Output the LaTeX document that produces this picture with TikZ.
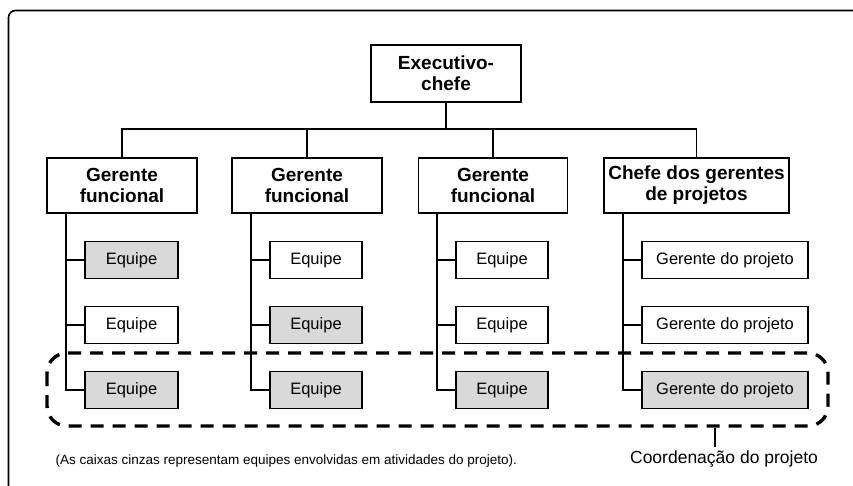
\documentclass[tikz,border=0pt]{standalone}
\usepackage{fontspec}
\setmainfont{Liberation Sans}
\definecolor{boxgray}{RGB}{217,217,217}
\begin{document}
\begin{tikzpicture}[x=1pt,y=-1pt,
  line width=1.1pt,
  headbox/.style={draw, line width=1.1pt, align=center, inner sep=0pt,
    font=\fontsize{19}{21}\selectfont\bfseries},
  teambox/.style={draw, line width=1.1pt, inner sep=0pt, minimum height=37pt,
    font=\fontsize{16.5}{18}\selectfont},
  grayteam/.style={teambox, fill=boxgray},
  link/.style={draw, line width=1.1pt},
  coord/.style={draw, line width=3.4pt, dash pattern=on 13pt off 9pt, rounded corners=20pt}
]
\useasboundingbox (0,0) rectangle (853,486);
% outer frame (top and left edges)
\draw[line width=1.6pt, rounded corners=7pt] (8.5,490) -- (8.5,10.5) -- (860,10.5);

% top
\node[headbox, minimum width=150pt, minimum height=57pt] (exec) at (446,73.5) {Executivo-\\chefe};
% level 2
\node[headbox, minimum width=150pt, minimum height=55pt] (g1) at (122,185.5) {Gerente\\funcional};
\node[headbox, minimum width=150pt, minimum height=55pt] (g2) at (307,185.5) {Gerente\\funcional};
\node[headbox, minimum width=149pt, minimum height=55pt] (g3) at (493,185.5) {Gerente\\funcional};
\node[headbox, minimum width=185pt, minimum height=55pt] (g4) at (696.5,185.5) {Chefe dos gerentes\\de projetos};

% bus
\coordinate (bus) at (446,129);
\draw[link] (exec.south) -- (bus);
\draw[link] (g1.north) |- (bus) -| (g4.north);
\draw[link] (g2.north) -- (g2.north |- bus);
\draw[link] (g3.north) -- (g3.north |- bus);

% teams column 1
\node[grayteam, minimum width=93pt] (t11) at (131.5,260) {Equipe};
\node[teambox, minimum width=93pt] (t12) at (131.5,325) {Equipe};
\node[grayteam, minimum width=93pt] (t13) at (131.5,390) {Equipe};
% column 2
\node[teambox, minimum width=92pt] (t21) at (316,260) {Equipe};
\node[grayteam, minimum width=92pt] (t22) at (316,325) {Equipe};
\node[grayteam, minimum width=92pt] (t23) at (316,390) {Equipe};
% column 3
\node[teambox, minimum width=92pt] (t31) at (502,260) {Equipe};
\node[teambox, minimum width=92pt] (t32) at (502,325) {Equipe};
\node[grayteam, minimum width=92pt] (t33) at (502,390) {Equipe};
% column 4
\node[teambox, minimum width=166pt] (t41) at (725,260) {Gerente do projeto};
\node[teambox, minimum width=166pt] (t42) at (725,325) {Gerente do projeto};
\node[grayteam, minimum width=166pt] (t43) at (725,390) {Gerente do projeto};

% trunks
\coordinate (a1) at (66,213);
\coordinate (a2) at (251,213);
\coordinate (a3) at (437,213);
\coordinate (a4) at (623,213);
\draw[link] (a1) |- (t13.west);
\draw[link] (a1 |- t11.west) -- (t11.west);
\draw[link] (a1 |- t12.west) -- (t12.west);
\draw[link] (a2) |- (t23.west);
\draw[link] (a2 |- t21.west) -- (t21.west);
\draw[link] (a2 |- t22.west) -- (t22.west);
\draw[link] (a3) |- (t33.west);
\draw[link] (a3 |- t31.west) -- (t31.west);
\draw[link] (a3 |- t32.west) -- (t32.west);
\draw[link] (a4) |- (t43.west);
\draw[link] (a4 |- t41.west) -- (t41.west);
\draw[link] (a4 |- t42.west) -- (t42.west);

% coordination dashed outline
\draw[coord] (47,353) rectangle (828,426);
\coordinate (tickTop) at (715,428);
\node[font=\fontsize{17.5}{20}\selectfont, inner sep=0pt] (coordlbl) at (724,459) {Coordenação do projeto};
\draw[line width=1.1pt] (tickTop) -- (715,447);

% footnote
\node[font=\fontsize{13.5}{15}\selectfont, inner sep=0pt, anchor=west] (note) at (55,461)
  {(As caixas cinzas representam equipes envolvidas em atividades do projeto).};
\end{tikzpicture}
\end{document}
